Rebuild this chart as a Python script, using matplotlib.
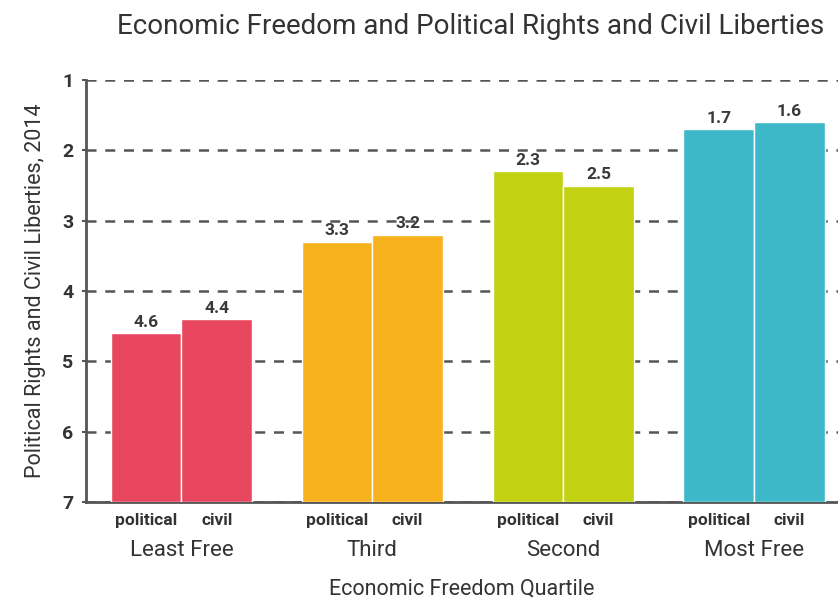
import matplotlib.pyplot as plt
import matplotlib.transforms as mtransforms
import numpy as np

# Data
quartiles = ['Least Free', 'Third', 'Second', 'Most Free']
political = [4.6, 3.3, 2.3, 1.7]
civil = [4.4, 3.2, 2.5, 1.6]
bar_colors = ['#E8475F', '#F7B21E', '#C2D111', '#3DB8C8']
sub_labels = ['political', 'civil']

plt.rcParams['font.family'] = ['Roboto', 'DejaVu Sans']

fig = plt.figure(figsize=(8.38, 5.99), dpi=100)
ax = fig.add_axes([86 / 838, (599 - 502) / 599, 1 - 86 / 838, (502 - 80) / 599])

x = np.arange(len(quartiles))
width = 0.37
offset = 0.185
base = 7

ax.bar(x - offset, np.array(political) - base, bottom=base, width=width,
       color=bar_colors, edgecolor='white', linewidth=1, zorder=3)
ax.bar(x + offset, np.array(civil) - base, bottom=base, width=width,
       color=bar_colors, edgecolor='white', linewidth=1, zorder=3)

# value labels
for xi, p, c in zip(x, political, civil):
    ax.text(xi - offset, p - 0.05, f'{p:.1f}', ha='center', va='bottom',
            fontsize=12.5, fontweight='bold', color='#3a3a3a', zorder=4)
    ax.text(xi + offset, c - 0.05, f'{c:.1f}', ha='center', va='bottom',
            fontsize=12.5, fontweight='bold', color='#3a3a3a', zorder=4)

ax.set_ylim(7, 1)
ax.set_xlim(-0.5, 3.44)
ax.set_yticks(range(1, 8))
ax.yaxis.grid(True, linestyle=(0, (4, 3.5)), color='#555555', linewidth=1.8)
ax.set_axisbelow(True)

# sub tick labels
ticks = np.concatenate([x - offset, x + offset])
labels = [sub_labels[0]] * len(x) + [sub_labels[1]] * len(x)
ax.set_xticks(ticks, labels)
ax.tick_params(axis='x', length=0, pad=8, labelsize=12.5)
ax.tick_params(axis='y', length=3, width=1.5, color='#555555', pad=6,
               labelsize=14)
for lab in ax.get_xticklabels():
    lab.set_fontweight('bold')
    lab.set_color('#333333')
for lab in ax.get_yticklabels():
    lab.set_fontweight('bold')
    lab.set_color('#333333')

trans = mtransforms.blended_transform_factory(ax.transData, ax.transAxes)
for xi, q in zip(x, quartiles):
    ax.text(xi, -0.115, q, transform=trans, ha='center', va='center',
            fontsize=16, color='#333333')

ax.set_xlabel('Economic Freedom Quartile', fontsize=15.5, color='#333333',
              labelpad=36)
ax.set_ylabel('Political Rights and Civil Liberties, 2014', fontsize=15.5,
              color='#333333', labelpad=12)

for side in ['top', 'right']:
    ax.spines[side].set_visible(False)
for side in ['left', 'bottom']:
    ax.spines[side].set_color('#555555')
    ax.spines[side].set_linewidth(2)

fig.text(471 / 838, 1 - 26 / 599,
         'Economic Freedom and Political Rights and Civil Liberties',
         ha='center', va='center', fontsize=20, color='#333333')

plt.savefig('out.png', dpi=100)
